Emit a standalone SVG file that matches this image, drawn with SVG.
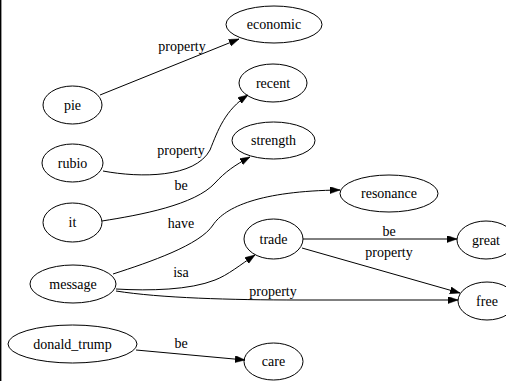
<svg xmlns="http://www.w3.org/2000/svg" width="506" height="381" viewBox="0 0 506 381">
<defs>
<marker id="ah" markerWidth="10" markerHeight="8" refX="10" refY="3.5" orient="auto" markerUnits="userSpaceOnUse">
<path d="M0,0 L10,3.5 L0,7 Z" fill="#000" stroke="#000" stroke-width="0.5"/>
</marker>
</defs>
<rect x="0" y="0" width="506" height="381" fill="#fff"/>
<line x1="0.7" y1="0" x2="0.7" y2="381" stroke="#000" stroke-width="1.4"/>
<g id="connectors" fill="none" stroke="#000" stroke-width="1" marker-end="url(#ah)">
<path d="M100,95 L239,39"/>
<path d="M103,171 C140,178 195,178 210,150 C218,130 225,110 248,95"/>
<path d="M102,221 C140,215 195,205 215,183 C225,172 235,165 250,157"/>
<path d="M113,274 C150,262 200,245 213,225 C225,207 260,191 340,190"/>
<path d="M116,289 C150,291 190,290 215,280 C228,275 240,265 255,255"/>
<path d="M116,291 C160,298 230,300 300,300 L458,300"/>
<path d="M303,239 L457,239"/>
<path d="M302,248 L460,293"/>
<path d="M136,350 L245,360"/>
</g>
<g id="edge-labels" font-family="serif" font-size="14" text-anchor="middle" fill="#000">
<text x="182" y="51" font-family="serif">property</text>
<text x="181" y="155" font-family="serif">property</text>
<text x="181" y="190" font-family="serif">be</text>
<text x="181" y="228" font-family="serif">have</text>
<text x="181" y="277" font-family="serif">isa</text>
<text x="273" y="296" font-family="serif">property</text>
<text x="389" y="236" font-family="serif">be</text>
<text x="389" y="257" font-family="serif">property</text>
<text x="181" y="348" font-family="serif">be</text>
</g>
<g font-size="14" text-anchor="middle">
<g id="economic"><ellipse cx="274" cy="24.5" rx="48" ry="18.5" fill="none" stroke="#000"/><text x="274" y="29" font-family="serif">economic</text></g>
<g id="recent"><ellipse cx="273" cy="83" rx="34" ry="19" fill="none" stroke="#000"/><text x="273" y="87.5" font-family="serif">recent</text></g>
<g id="strength"><ellipse cx="273.5" cy="140.5" rx="41.5" ry="18.5" fill="none" stroke="#000"/><text x="273.5" y="145" font-family="serif">strength</text></g>
<g id="pie"><ellipse cx="72.5" cy="105" rx="29.5" ry="19" fill="none" stroke="#000"/><text x="72.5" y="109.5" font-family="serif">pie</text></g>
<g id="rubio"><ellipse cx="72.5" cy="163" rx="30.5" ry="19" fill="none" stroke="#000"/><text x="72.5" y="167.5" font-family="serif">rubio</text></g>
<g id="it"><ellipse cx="72.5" cy="222.5" rx="29.5" ry="19.5" fill="none" stroke="#000"/><text x="72.5" y="227" font-family="serif">it</text></g>
<g id="message"><ellipse cx="73" cy="284" rx="43" ry="19" fill="none" stroke="#000"/><text x="73" y="288.5" font-family="serif">message</text></g>
<g id="donald_trump"><ellipse cx="72.5" cy="344" rx="64.5" ry="19" fill="none" stroke="#000"/><text x="72.5" y="348.5" font-family="serif">donald_trump</text></g>
<g id="care"><ellipse cx="273.5" cy="361.5" rx="29.5" ry="18.5" fill="none" stroke="#000"/><text x="273.5" y="366" font-family="serif">care</text></g>
<g id="trade"><ellipse cx="273.5" cy="239" rx="29.5" ry="20" fill="none" stroke="#000"/><text x="273.5" y="243.5" font-family="serif">trade</text></g>
<g id="resonance"><ellipse cx="389" cy="193.5" rx="49" ry="18.5" fill="none" stroke="#000"/><text x="389" y="198" font-family="serif">resonance</text></g>
<g id="great"><ellipse cx="486" cy="240" rx="29" ry="19" fill="none" stroke="#000"/><text x="486" y="244.5" font-family="serif">great</text></g>
<g id="free"><ellipse cx="487" cy="301" rx="29" ry="19" fill="none" stroke="#000"/><text x="487" y="305.5" font-family="serif">free</text></g>
</g>
</svg>
